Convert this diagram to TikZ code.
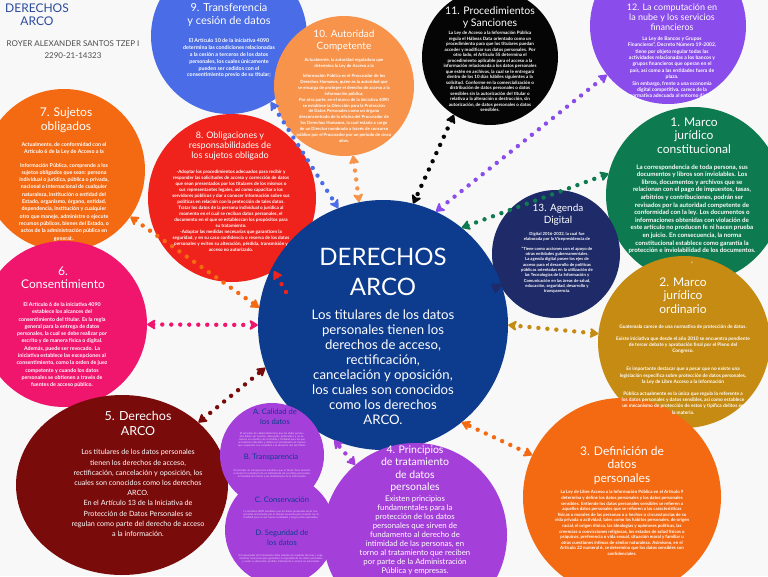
\documentclass[tikz,border=0pt]{standalone}
\usepackage{fontspec}
\setmainfont{Lato}
\usepackage{tikz}
\usetikzlibrary{positioning,arrows.meta,calc,shapes.geometric}
\definecolor{paper}{HTML}{F8F8F8}
\definecolor{cmain}{HTML}{0D3B8E}
\definecolor{cnine}{HTML}{4A6CE6}
\definecolor{cten}{HTML}{F7934A}
\definecolor{celeven}{HTML}{050505}
\definecolor{ctwelve}{HTML}{8A4CEA}
\definecolor{cseven}{HTML}{F46A12}
\definecolor{ceight}{HTML}{EF231C}
\definecolor{cone}{HTML}{0E7A50}
\definecolor{cthirteen}{HTML}{1F2B68}
\definecolor{csix}{HTML}{F0156D}
\definecolor{ctwo}{HTML}{C68B12}
\definecolor{cfive}{HTML}{790B0B}
\definecolor{cviolet}{HTML}{A53FDA}
\definecolor{ctitle}{HTML}{2C4A9C}

\begin{document}
\begin{tikzpicture}[
  x=1pt, y=-1pt,
  bubble/.style={circle, inner sep=0pt},
  ttl/.style={text=white, font=\fontsize{11.5}{13}\selectfont, align=center, anchor=north},
  body/.style={text=white, font=\fontsize{5}{6.2}\selectfont\bfseries, align=center, anchor=north},
  bigbody/.style={text=white, font=\fontsize{7.4}{9.6}\selectfont, align=center, anchor=north},
  tiny/.style={text=white!75!cviolet, font=\fontsize{2.6}{3.1}\selectfont, align=center, anchor=north},
  link/.style={line width=4.4pt, line cap=round, dash pattern=on 0pt off 9pt,
    {Stealth[length=10pt,width=12pt,inset=2.5pt,round]}-{Stealth[length=10pt,width=12pt,inset=2.5pt,round]}},
  linkend/.style={link, {}-{Stealth[length=10pt,width=12pt,inset=2.5pt,round]}}
]
  \useasboundingbox (0,0) rectangle (768,576);
  \clip (0,0) rectangle (768,576);
  \fill[paper] (0,0) rectangle (768,576);

  % --- titulo y autor ---
  \node[text=ctitle, font=\fontsize{12}{13}\selectfont, align=center, anchor=north] (doc) at (37,0) {DERECHOS\\ARCO};
  \node[text=black!70, font=\fontsize{8}{12.5}\selectfont, align=center, anchor=north] (autor) at (73,37) {ROYER ALEXANDER SANTOS TZEP I\\2290-21-14323};

  % --- circulos ---
  \node[bubble, fill=cnine, minimum size=156pt] (c9) at (229,36) {};
  \node[bubble, fill=cten, minimum size=140pt] (c10) at (344,86) {};
  \node[bubble, fill=celeven, minimum size=136pt] (c11) at (490,57) {};
  \node[bubble, fill=ctwelve, minimum size=156pt] (c12) at (668,26) {};
  \node[bubble, fill=cseven, minimum size=162pt] (c7) at (64,170) {};
  \node[bubble, fill=ceight, minimum size=168pt] (c8) at (232,198) {};
  \node[bubble, fill=cone, minimum size=176pt] (c1) at (694,195) {};
  \node[bubble, fill=csix, minimum size=166pt] (c6) at (64,324) {};
  \node[bubble, fill=ctwo, minimum size=172pt] (c2) at (684,342) {};
  \node[bubble, fill=cthirteen, minimum size=128pt] (c13) at (556,254) {};
  \node[bubble, fill=cmain, minimum size=250pt] (arco) at (383,325) {};
  \node[ellipse, inner sep=0pt, fill=cfive, minimum width=212pt, minimum height=180pt] (c5) at (122,485) {};
  \node[bubble, fill=cviolet, minimum size=104pt] (cab) at (272,455) {};
  \node[bubble, fill=cviolet, minimum size=110pt] (ccd) at (280,530) {};
  \node[bubble, fill=cviolet, minimum size=184pt] (c4) at (415,535) {};
  \node[bubble, fill=cseven, minimum size=198pt] (c3) at (622,497) {};

  % --- 9 ---
  \node[ttl, font=\fontsize{11}{12.5}\selectfont] (t9) at (229,0) {9. Transferencia\\y cesión de datos};
  \node[body, font=\fontsize{5.3}{6.9}\selectfont\bfseries] (b9) at (229,35) {El Artículo 10 de la iniciativa 4090\\determina las condiciones relacionadas\\a la cesión a terceros de los datos\\personales, los cuales únicamente\\pueden ser cedidos con el\\consentimiento previo de su titular;};
  % --- 10 ---
  \node[ttl, font=\fontsize{10}{11.5}\selectfont] (t10) at (344,27) {10. Autoridad\\Competente};
  \node[body, font=\fontsize{4.3}{5.9}\selectfont\bfseries] (b10) at (344,55) {Actualmente, la autoridad reguladora que\\determina la Ley de Acceso a la\\[4pt]Información Pública es el Procurador de los\\Derechos Humanos, quien es la autoridad que\\se encarga de proteger el derecho de acceso a la\\información pública;\\Por otra parte, en el marco de la iniciativa 4090\\se establece la Dirección para la Protección\\de Datos Personales como un órgano\\desconcentrado de la oficina del Procurador de\\los Derechos Humanos, la cual estaría a cargo\\de un Director nombrado a través de concurso\\público por el Procurador por un período de cinco\\años.};
  % --- 11 ---
  \node[ttl, font=\fontsize{10.5}{12}\selectfont] (t11) at (490,3) {11. Procedimientos\\y Sanciones};
  \node[body, font=\fontsize{4.5}{5.5}\selectfont\bfseries] (b11) at (490,28) {La Ley de Acceso a la Información Pública\\regula el Hábeas Data orientado como un\\procedimiento para que los titulares puedan\\acceder y modificar sus datos personales. Por\\otro lado, el Artículo 55 determina el\\procedimiento aplicable para el acceso a la\\información relacionada a los datos personales\\que estén en archivos, la cual se le entregará\\dentro de los 10 días hábiles siguientes a la\\solicitud. Conforme en la comercialización o\\distribución de datos personales o datos\\sensibles sin la autorización del titular o\\relativa a la alteración o destrucción, sin\\autorización, de datos personales o datos\\sensibles.};
  % --- 12 ---
  \node[ttl, font=\fontsize{9}{10}\selectfont] (t12) at (672,0) {12. La computación en\\la nube y los servicios\\financieros};
  \node[body, font=\fontsize{5}{6.4}\selectfont\bfseries] (b12) at (672,33) {La Ley de Bancos y Grupos\\Financieros", Decreto Número 19-2002,\\tiene por objeto regular todas las\\actividades relacionadas a los bancos y\\grupos financieros que operan en el\\país, así como a las entidades fuera de\\plaza.\\Sin embargo, frente a una economía\\digital competitiva, carece de la\\normativa adecuada al entorno digital.};
  % --- 7 ---
  \node[ttl, font=\fontsize{12}{14}\selectfont] (t7) at (66,104) {7. Sujetos\\obligados};
  \node[body, font=\fontsize{5.3}{7.3}\selectfont\bfseries] (b7) at (64,139) {Actualmente, de conformidad con el\\Artículo 6 de la Ley de Acceso a la\\[6pt]Información Pública, comprende a los\\sujetos obligados que sean: persona\\individual o jurídica, pública o privada,\\nacional o internacional de cualquier\\naturaleza, institución o entidad del\\Estado, organismo, órgano, entidad,\\dependencia, institución y cualquier\\otro que maneje, administre o ejecute\\recursos públicos, bienes del Estado, o\\actos de la administración pública en\\general;.};
  % --- 8 ---
  \node[ttl, font=\fontsize{9}{10}\selectfont] (t8) at (230,128) {8. Obligaciones y\\responsabilidades de\\los sujetos obligado};
  \node[body, font=\fontsize{4.6}{6}\selectfont\bfseries] (b8) at (231,167) {-Adoptar los procedimientos adecuados para recibir y\\responder las solicitudes de acceso y corrección de datos\\que sean presentados por los titulares de los mismos o\\sus representantes legales, así como capacitar a los\\servidores públicos y dar a conocer información sobre sus\\políticas en relación con la protección de tales datos.\\Tratar los datos de la persona individual o jurídica al\\momento en el cual se reciban datos personales, el\\documento en el que se establezcan los propósitos para\\su tratamiento.\\-Adoptar las medidas necesarias que garanticen la\\seguridad, y en su caso confidencia o reserva de los datos\\personales y eviten su alteración, pérdida, transmisión y\\acceso no autorizado.};
  % --- 1 ---
  \node[ttl, font=\fontsize{12}{13.5}\selectfont] (t1) at (694,114) {1. Marco\\jurídico\\constitucional};
  \node[body, font=\fontsize{6.2}{7.6}\selectfont\bfseries] (b1) at (692,161) {La correspondencia de toda persona, sus\\documentos y libros son inviolables. Los\\libros, documentos y archivos que se\\relacionan con el pago de impuestos, tasas,\\arbitrios y contribuciones, podrán ser\\revisados por la autoridad competente de\\conformidad con la ley. Los documentos o\\informaciones obtenidas con violación de\\este artículo no producen fe ni hacen prueba\\en juicio. En consecuencia, la norma\\constitucional establece como garantía la\\protección e inviolabilidad de los documentos.\\[4pt]-};
  % --- 13 ---
  \node[ttl, font=\fontsize{10}{11.5}\selectfont] (t13) at (558,201) {13. Agenda\\Digital};
  \node[body, font=\fontsize{4.2}{5.3}\selectfont\bfseries] (b13) at (557,229) {Digital 2016-2032, la cual fue\\elaborada por la Vicepresidencia de\\[4pt]"Tiene como acciones con el apoyo de\\otras entidades gubernamentales.\\La agenda digital posee los ejes de\\acceso para el desarrollo de políticas\\públicas orientadas en la utilización de\\las Tecnologías de la Información y\\Comunicación en las áreas de salud,\\educación, seguridad, desarrollo y\\transparencia.};
  % --- 6 ---
  \node[ttl, font=\fontsize{12}{13.5}\selectfont] (t6) at (63,263) {6.\\Consentimiento};
  \node[body, font=\fontsize{5.3}{7.3}\selectfont\bfseries] (b6) at (62,299) {El Artículo 6 de la iniciativa 4090\\establece los alcances del\\consentimiento del titular. Es la regla\\general para la entrega de datos\\personales, la cual se debe realizar por\\escrito y de manera física o digital.\\Además, puede ser revocado. La\\iniciativa establece las excepciones al\\consentimiento, como la orden de juez\\competente y cuando los datos\\personales se obtienen a través de\\fuentes de acceso público.};
  % --- 2 ---
  \node[ttl, font=\fontsize{12}{13.5}\selectfont] (t2) at (683,274) {2. Marco\\jurídico\\ordinario};
  \node[body, font=\fontsize{4.8}{6.2}\selectfont\bfseries] (b2) at (683,321) {Guatemala carece de una normativa de protección de datos.\\[6pt]Existe iniciativa que desde el año 2010 se encuentra pendiente\\de tercer debate y aprobación final por el Pleno del\\Congreso.\\[12pt]Es importante destacar que a pesar que no existe una\\legislación específica sobre protección de datos personales,\\la Ley de Libre Acceso a la Información\\[6pt]Pública actualmente es la única que regula lo referente a\\los datos personales y datos sensibles, así como establece\\un mecanismo de protección de estos y tipifica delitos en\\la materia.};

  % --- centro ---
  \node[text=white, font=\fontsize{24}{30}\selectfont, align=center, anchor=north] (tarco) at (383,245) {DERECHOS\\ARCO};
  \node[text=white, font=\fontsize{13.2}{15}\selectfont, align=center, anchor=north] (barco) at (383,306) {Los titulares de los datos\\personales tienen los\\derechos de acceso,\\rectificación,\\cancelación y oposición,\\los cuales son conocidos\\como los derechos\\ARCO.};

  % --- 5 ---
  \node[ttl, font=\fontsize{12.5}{14.5}\selectfont] (t5) at (138,408) {5. Derechos\\ARCO};
  \node[bigbody, font=\fontsize{7.2}{10.2}\selectfont] (b5) at (138,446) {Los titulares de los datos personales\\tienen los derechos de acceso,\\rectificación, cancelación y oposición, los\\cuales son conocidos como los derechos\\ARCO.\\En el Artículo 13 de la Iniciativa de\\Protección de Datos Personales se\\regulan como parte del derecho de acceso\\a la información.};
  % --- A a D ---
  \node[ttl, font=\fontsize{7.6}{10}\selectfont, text=cmain] (ta) at (275,405) {A. Calidad de\\los datos};
  \node[tiny, text width=80pt] (ba) at (272,429) {El principio de calidad determina que los datos personales deben ser exactos, adecuados, pertinentes y no excesivos en relación con el ámbito y finalidad para los que se hubieren obtenido, y deben ser actualizados de manera que respondan con veracidad a la situación real del titular.};
  \node[ttl, font=\fontsize{7.6}{10}\selectfont, text=cmain] (tb) at (271,450) {B. Transparencia};
  \node[tiny, text width=78pt] (bb) at (272,466) {El principio de transparencia establece que el titular tiene derecho a conocer la existencia de un tratamiento de sus datos personales, la finalidad del mismo y los destinatarios de la información.};
  \node[ttl, font=\fontsize{7.6}{10}\selectfont, text=cmain] (tc) at (282,493) {C. Conservación};
  \node[tiny, text width=86pt] (bc) at (281,507) {La iniciativa 4090 establece que los datos personales serán conservados únicamente por el tiempo necesario para cumplir con la finalidad para la cual fueron recabados y luego serán suprimidos.};
  \node[ttl, font=\fontsize{7.6}{10}\selectfont, text=cmain] (td) at (282,526) {D. Seguridad de\\los datos};
  \node[tiny, text width=86pt] (bd) at (281,551) {El responsable del tratamiento debe adoptar las medidas técnicas y organizativas necesarias para garantizar la seguridad de los datos personales y evitar su alteración, pérdida, tratamiento o acceso no autorizado.};
  % --- 4 ---
  \node[ttl, font=\fontsize{10.5}{12.5}\selectfont] (t4) at (415,442) {4. Principios\\de tratamiento\\de datos\\personales};
  \node[bigbody, font=\fontsize{7.8}{9}\selectfont] (b4) at (415,492) {Existen principios\\fundamentales para la\\protección de los datos\\personales que sirven de\\fundamento al derecho de\\intimidad de las personas, en\\torno al tratamiento que reciben\\por parte de la Administración\\Pública y empresas.};
  % --- 3 ---
  \node[ttl, font=\fontsize{12}{13.5}\selectfont] (t3) at (622,443) {3. Definición de\\datos\\personales};
  \node[body, font=\fontsize{4.4}{5.6}\selectfont\bfseries] (b3) at (622,487) {La Ley de Libre Acceso a la Información Pública en el Artículo 9\\determina y define los datos personales y los datos personales\\sensibles. Entiende los datos personales sensibles se refieren a\\aquellos datos personales que se refieren a las características\\físicas o morales de las personas o a hechos o circunstancias de su\\vida privada o actividad, tales como los hábitos personales, de origen\\racial, el origen étnico, las ideologías y opiniones políticas, las\\creencias o convicciones religiosas, los estados de salud físicos o\\psíquicos, preferencia o vida sexual, situación moral y familiar u\\otras cuestiones íntimas de similar naturaleza. Asimismo, en el\\Artículo 22 numeral 6, se determina que los datos sensibles son\\confidenciales.};

  % --- conectores ---
  \coordinate (p8) at (286,292);
  \draw[link, cnine] (c9) -- (arco.111);
  \draw[link, cten] (c10) -- (arco.101);
  \draw[link, celeven] (c11.238) -- (arco.76);
  \draw[link, ctwelve] (c12) -- (arco.65);
  \draw[link, cone] (c1.166) -- (arco.51);
  \draw[link, cthirteen] (c13) -- (arco.19);
  \draw[link, ctwo] (c2) -- (arco.0);
  \draw[link, cseven] (c3) -- (arco.-51);
  \draw[link, cviolet] (c4) -- (arco.247);
  \draw[link, cfive] (c5) -- (arco.200);
  \draw[link, csix] (c6) -- (arco.180);
  \draw[link, cseven] (c7) -- (arco.172);
  \draw[linkend, ceight] (p8) -- (c8);
\end{tikzpicture}
\end{document}
